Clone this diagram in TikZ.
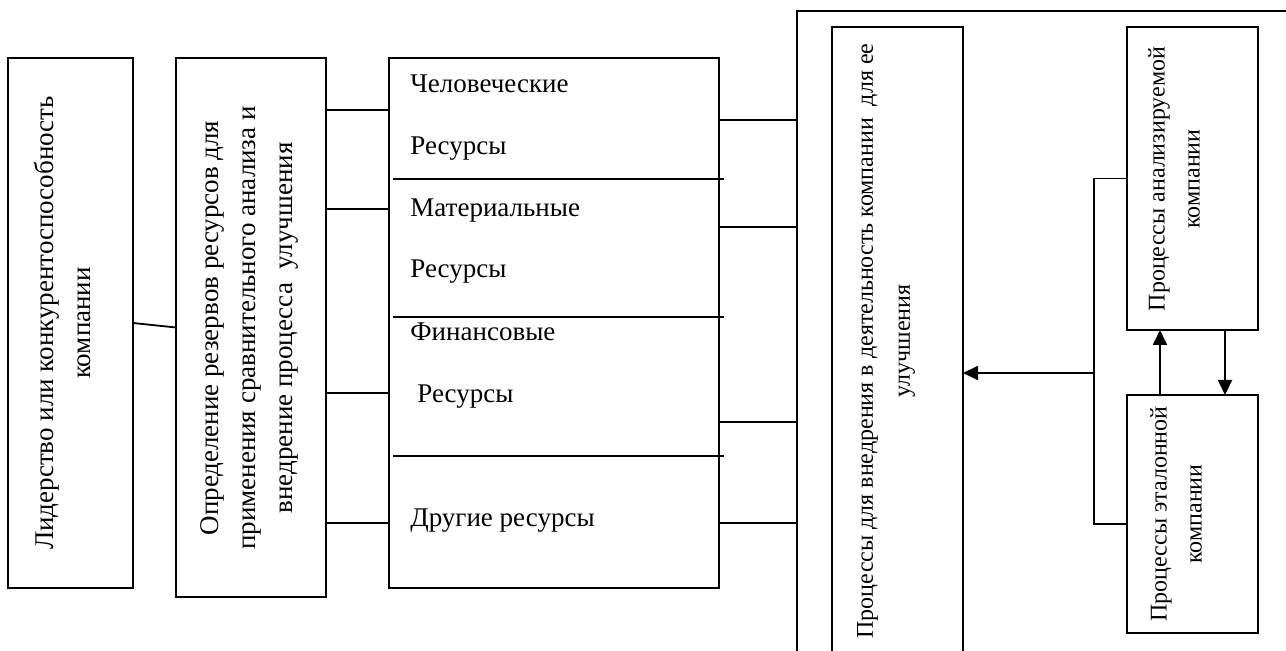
\documentclass[tikz,border=0pt]{standalone}
\usepackage{fontspec}
\setmainfont{Liberation Serif}
\usetikzlibrary{arrows.meta}

\begin{document}
\begin{tikzpicture}[
    x=0.5pt, y=-0.5pt,
    box/.style={rectangle, draw=black, line width=1pt, inner sep=0pt, outer sep=0pt},
    vtext/.style={rotate=90, align=center, inner sep=0pt, font=\fontsize{13.5}{18.5}\selectfont},
    vsmall/.style={vtext, font=\fontsize{12}{17.5}\selectfont},
    htext/.style={anchor=base west, inner sep=0pt, font=\fontsize{13.5}{16}\selectfont},
    link/.style={line width=0.9pt},
    arr/.style={-{Triangle[length=7.5pt, width=7pt]}, line width=0.9pt}
]
\useasboundingbox (0,0) rectangle (1286,651);
\clip (0,0) rectangle (1286,651);

% boxes
\node[box, minimum width=62.5pt, minimum height=265pt] (lead) at (70.5,323) {};
\node[box, minimum width=75pt, minimum height=269.5pt] (defn) at (251,327.5) {};
\node[box, minimum width=165pt, minimum height=265pt] (res) at (554,323) {};
\node[box, minimum width=251.5pt, minimum height=329.5pt] (outer) at (1048.5,340.5) {};
\node[box, minimum width=65.5pt, minimum height=321.5pt] (impl) at (897.5,348.5) {};
\node[box, minimum width=65.5pt, minimum height=151.5pt] (studied) at (1192.5,178.5) {};
\node[box, minimum width=65.5pt, minimum height=119pt] (bench) at (1192.5,514) {};

% rotated texts
\node[vtext] (leadtxt) at (62,323) {Лидерство или конкурентоспособность\\компании};
\node[vtext] (defntxt) at (249,328) {Определение резервов ресурсов для\\применения сравнительного анализа и\\внедрение процесса\ \ улучшения};
\node[vsmall, font=\fontsize{12}{18.5}\selectfont] (impltxt) at (886,341) {Процессы для внедрения в деятельность компании\ \ для ее\\улучшения};
\node[vsmall] (studtxt) at (1174,179) {Процессы анализируемой\\компании};
\node[vsmall] (benchtxt) at (1176,514) {Процессы эталонной\\компании};

% resource rows
\draw[line width=1.1pt] (393,179) -- (724,179);
\draw[line width=1.1pt] (393,317) -- (724,317);
\draw[line width=1.1pt] (393,456) -- (724,456);
\node[htext] (hum1) at (410,93) {Человеческие};
\node[htext] (hum2) at (410,155) {Ресурсы};
\node[htext] (mat1) at (410,217) {Материальные};
\node[htext] (mat2) at (410,278) {Ресурсы};
\node[htext] (fin1) at (410,341) {Финансовые};
\node[htext] (fin2) at (417,403) {Ресурсы};
\node[htext] (oth) at (410,527) {Другие ресурсы};

% connectors
\draw[link] (lead.east) -- (defn.west);
\foreach \y in {110,209,393,523}
    \draw[link] (defn.east |- 0,\y) -- (res.west |- 0,\y);
\foreach \y in {120,227,422,523}
    \draw[link] (res.east |- 0,\y) -- (outer.west |- 0,\y);

\coordinate (fork) at (1094,373);
\draw[link] (studied.west) -| (fork) |- (bench.west |- 0,524);
\draw[arr] (fork) -- (impl.east |- fork);
\draw[arr] (bench.north -| 1160,0) -- (studied.south -| 1160,0);
\draw[arr] (studied.south -| 1225,0) -- (bench.north -| 1225,0);
\end{tikzpicture}
\end{document}
